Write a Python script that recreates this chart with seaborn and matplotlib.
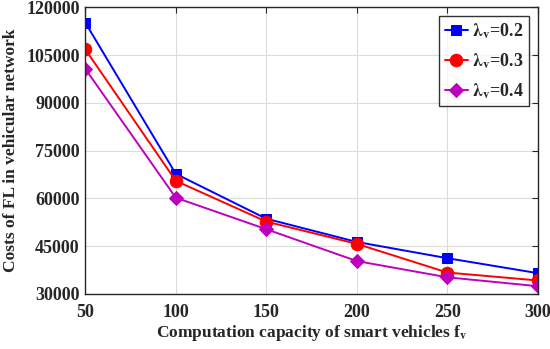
import matplotlib
matplotlib.use("Agg")
import matplotlib.pyplot as plt
import seaborn as sns
import pandas as pd

sns.set_theme(style="white")
plt.rcParams.update({
    "font.family": ["Liberation Serif", "DejaVu Serif"],
    "font.weight": "bold",
    "mathtext.fontset": "stix",
    "xtick.direction": "in",
    "ytick.direction": "in",
})

# ── data
capacity = [50, 100, 150, 200, 250, 300]
cost_02 = [115200, 67700, 53600, 46300, 41200, 36500]
cost_03 = [106800, 65500, 52700, 45700, 36700, 34200]
cost_04 = [100700, 60200, 50300, 40300, 35200, 32400]
labels = [r"$\mathbf{\lambda_{v}}$=0.2", r"$\mathbf{\lambda_{v}}$=0.3", r"$\mathbf{\lambda_{v}}$=0.4"]

series = [cost_02, cost_03, cost_04]
colors = ["#0000ff", "#ff0000", "#bf00bf"]
markers = ["s", "o", "D"]
msizes = [7, 9, 7]

fig = plt.figure(figsize=(5.5, 3.49), dpi=100)
ax = fig.add_axes([0.155, 0.158, 0.823, 0.821])

for vals, lab, c, m, ms in zip(series, labels, colors, markers, msizes):
    df = pd.DataFrame({"x": capacity, "y": vals})
    sns.lineplot(data=df, x="x", y="y", ax=ax, color=c, marker=m, markersize=ms,
                 markeredgecolor=c, linewidth=1.4, label=lab)

ax.set_xlim(50, 300)
ax.set_ylim(30000, 120000)
ax.set_xticks(capacity)
ax.set_yticks(range(30000, 120001, 15000))
ax.grid(True, color="#dcdcdc", linewidth=0.8)
for s in ax.spines.values():
    s.set_color("#262626")
    s.set_linewidth(1.0)
ax.tick_params(axis="both", labelsize=13, colors="#262626", length=4, width=0.8,
               top=True, right=True)
ax.tick_params(axis="x", pad=7)
ax.tick_params(axis="y", pad=4)
ax.set_xlabel(r"Computation capacity of smart vehicles f$_\mathbf{v}$", fontsize=12.5,
              fontweight="bold", color="#262626", labelpad=2)
ax.set_ylabel("Costs of FL in vehicular network", fontsize=12.5, fontweight="bold",
              color="#262626", labelpad=5)

leg = ax.legend(loc="upper right", fontsize=13, frameon=True, fancybox=False,
                edgecolor="black", handlelength=1.3, handletextpad=0.2,
                borderpad=0.3, labelspacing=0.55, borderaxespad=0.5)
leg.get_frame().set_linewidth(1.0)

fig.savefig("out.png", dpi=100)
